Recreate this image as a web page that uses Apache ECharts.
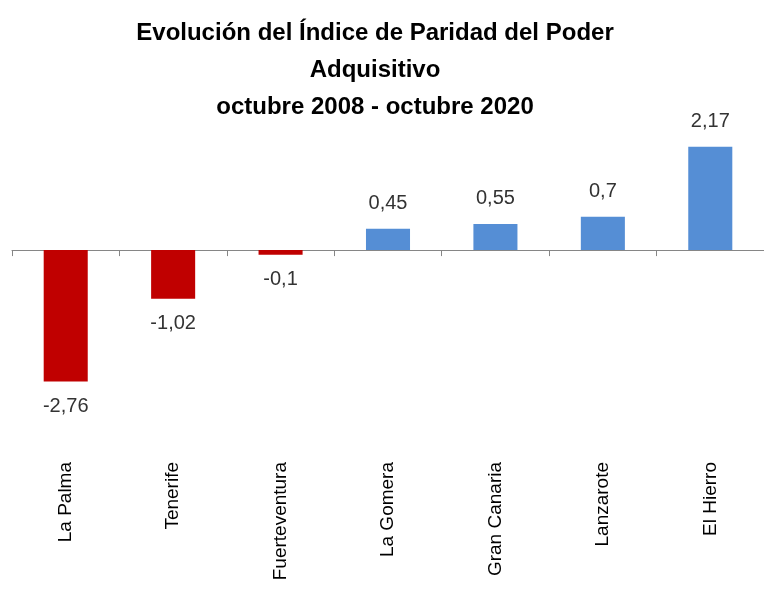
<!DOCTYPE html>
<html>
<head>
<meta charset="utf-8">
<script src="https://cdn.jsdelivr.net/npm/echarts@6/dist/echarts.min.js"></script>
<style>html,body{margin:0;padding:0;background:#fff}#c{width:764px;height:594px}</style>
</head>
<body>
<div id="c"></div>
<script>
const titleLines = ['Evolución del Índice de Paridad del Poder', 'Adquisitivo', 'octubre 2008 - octubre 2020'];
const categories = ['La Palma', 'Tenerife', 'Fuerteventura', 'La Gomera', 'Gran Canaria', 'Lanzarote', 'El Hierro'];
const values = [-2.76, -1.02, -0.1, 0.45, 0.55, 0.7, 2.17];
const negColor = '#C00000';
const posColor = '#558ED5';

const chart = echarts.init(document.getElementById('c'), null, {renderer: 'canvas'});
const data = values.map(v => ({
  value: v,
  itemStyle: {color: v < 0 ? negColor : posColor},
  label: {position: v < 0 ? 'bottom' : 'top'}
}));
chart.setOption({
  animation: false,
  backgroundColor: '#fff',
  title: {
    text: titleLines.join('\n'),
    left: 370,
    top: 10,
    textAlign: 'center',
    textStyle: {fontFamily: 'Liberation Sans', fontWeight: 'bold', fontSize: 24, lineHeight: 37, color: '#000'}
  },
  grid: {left: 12, top: 131, width: 764, height: 262, containLabel: false},
  xAxis: [{
    type: 'category', data: categories,
    axisLine: {onZero: true, lineStyle: {color: '#868686', width: 1}},
    axisTick: {show: true, length: 6, lineStyle: {color: '#868686'}},
    axisLabel: {show: false}
  }, {
    type: 'category', data: categories, position: 'bottom', offset: 69,
    axisLine: {show: false, onZero: false}, axisTick: {show: false},
    axisLabel: {rotate: 90, margin: 0, fontFamily: 'Liberation Sans', fontSize: 19, color: '#000'}
  }],
  yAxis: {type: 'value', min: -3, max: 2.5, show: false, splitLine: {show: false}},
  series: [{
    type: 'bar', xAxisIndex: 0, data: data, barWidth: '41%',
    label: {show: true, distance: 15, fontFamily: 'Liberation Sans', fontSize: 20, color: '#333333',
      formatter: p => String(p.value).replace('.', ',')}
  }]
});
</script>
</body>
</html>
